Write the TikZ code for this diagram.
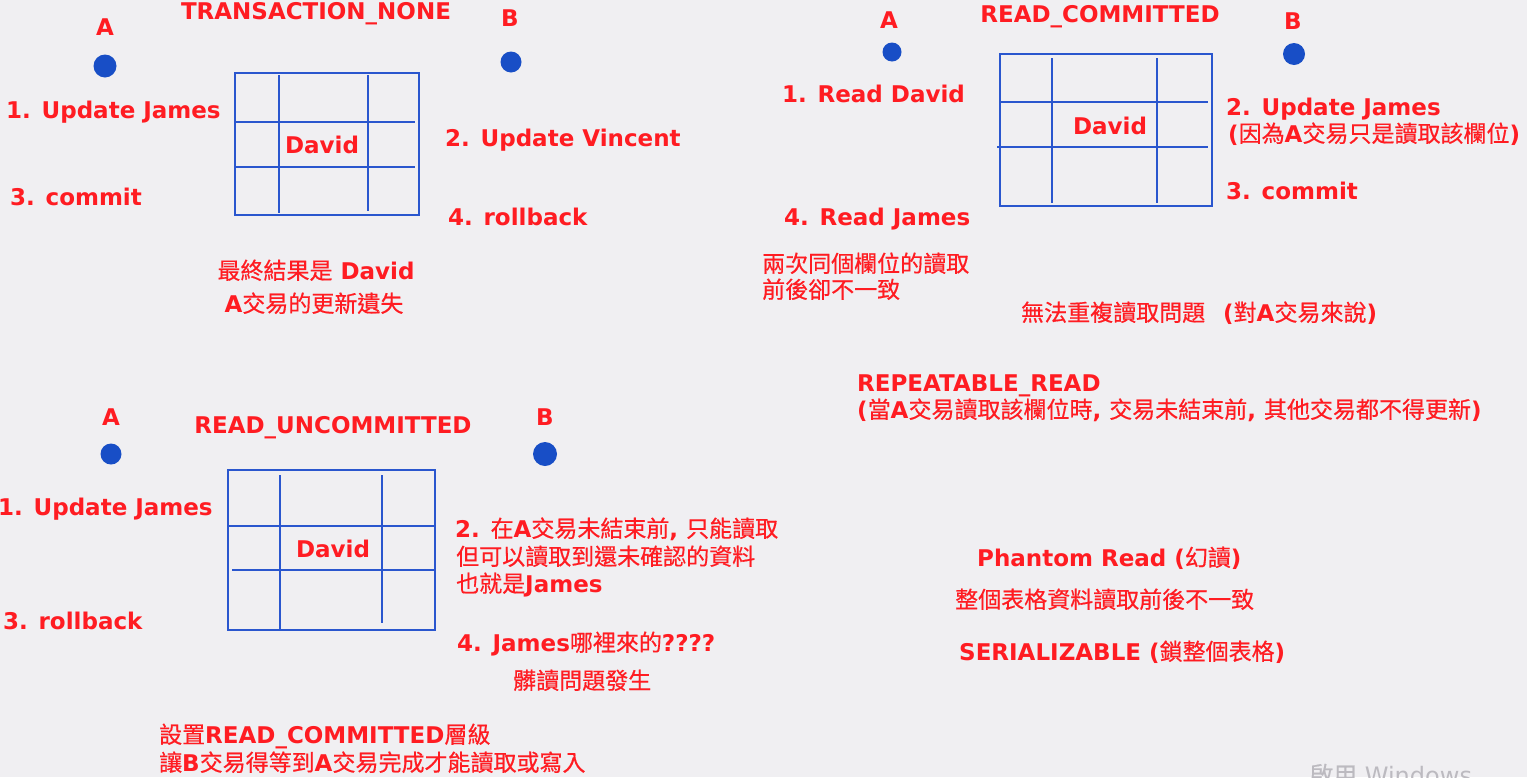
\documentclass[tikz,border=0pt]{standalone}
\usepackage{fontspec}
\setmainfont{DejaVu Sans}
\newfontfamily\cjk{Noto Sans CJK TC}[FakeBold=0.5]
\usetikzlibrary{positioning,calc}
\definecolor{bgclr}{RGB}{240,239,242}
\definecolor{txtclr}{RGB}{255,28,34}
\definecolor{gridclr}{RGB}{42,86,206}
\definecolor{dotclr}{RGB}{24,78,198}
\definecolor{markclr}{RGB}{188,186,192}
\tikzset{
  lbl/.style={text=txtclr,inner sep=0pt,anchor=base west,
              font=\bfseries\fontsize{23}{28}\selectfont},
  ttl/.style={lbl,anchor=base},
  dot/.style={circle,fill=dotclr,inner sep=0pt,minimum size=22pt},
  tbl/.style={rectangle,draw=gridclr,line width=2pt,inner sep=0pt,
              anchor=north west},
  gridln/.style={draw=gridclr,line width=2pt},
}
\newcommand{\zh}[1]{{\cjk\mdseries #1}}

\begin{document}
\begin{tikzpicture}[x=1pt,y=-1pt]
\useasboundingbox (0,0) rectangle (1527,777);
\fill[bgclr] (0,0) rectangle (1527,777);
\clip (0,0) rectangle (1527,777);

% TRANSACTION_NONE
\node[ttl] (ttlNone) at (316,19) {TRANSACTION\_NONE};
\node[lbl,anchor=base] (aNone) at (105,35) {A};
\node[dot,minimum size=23pt] (dotANone) at (105,66) {};
\node[lbl,anchor=base] (bNone) at (510,26) {B};
\node[dot,minimum size=21pt] (dotBNone) at (511,62) {};
\node[tbl,minimum width=184pt,minimum height=142pt] (tabNone) at (234,72) {};
\draw[gridln] (279,75) -- (279,213);
\draw[gridln] (368,75) -- (368,211);
\draw[gridln] (235,122) -- (415,122);
\draw[gridln] (236,167) -- (415,167);
\node[ttl] (davNone) at (322,153) {David};
\node[lbl] (s1None) at (6,118) {1. Update James};
\node[lbl] (s3None) at (10,205) {3. commit};
\node[lbl] (s2None) at (445,146) {2. Update Vincent};
\node[lbl] (s4None) at (448,225) {4. rollback};
\node[ttl] (resNone) at (316,279) {\zh{最終結果是} David};
\node[ttl] (lostNone) at (314,312) {A\zh{交易的更新遺失}};

% READ_COMMITTED
\node[lbl,anchor=base] (aRC) at (889,28) {A};
\node[dot,minimum size=19pt] (dotARC) at (892,52) {};
\node[ttl] (ttlRC) at (1100,22) {READ\_COMMITTED};
\node[lbl,anchor=base] (bRC) at (1293,29) {B};
\node[dot,minimum size=22pt] (dotBRC) at (1294,54) {};
\node[tbl,minimum width=212pt,minimum height=152pt] (tabRC) at (999,53) {};
\draw[gridln] (1052,58) -- (1052,203);
\draw[gridln] (1157,58) -- (1157,203);
\draw[gridln] (999,102) -- (1208,102);
\draw[gridln] (997,147) -- (1208,147);
\node[ttl] (davRC) at (1110,134) {David};
\node[lbl] (s1RC) at (782,102) {1. Read David};
\node[lbl] (s4RC) at (784,225) {4. Read James};
\node[lbl] (s2RC) at (1226,115) {2. Update James};
\node[lbl] (whyRC) at (1228,142) {(\zh{因為}A\zh{交易只是讀取該欄位})};
\node[lbl] (s3RC) at (1226,199) {3. commit};
\node[lbl] (note1RC) at (762,272) {\zh{兩次同個欄位的讀取}};
\node[lbl] (note2RC) at (762,298) {\zh{前後卻不一致}};
\node[lbl] (probRC) at (1021,321) {\zh{無法重複讀取問題}\hspace{18pt}(\zh{對}A\zh{交易來說})};

% REPEATABLE_READ
\node[lbl] (ttlRR) at (857,391) {REPEATABLE\_READ};
\node[lbl] (noteRR) at (857,418) {(\zh{當}A\zh{交易讀取該欄位時}, \zh{交易未結束前}, \zh{其他交易都不得更新})};

% phantom read, SERIALIZABLE
\node[lbl] (phRead) at (977,566) {Phantom Read (\zh{幻讀})};
\node[lbl] (phNote) at (955,608) {\zh{整個表格資料讀取前後不一致}};
\node[lbl] (serial) at (959,660) {SERIALIZABLE (\zh{鎖整個表格})};

% READ_UNCOMMITTED
\node[lbl,anchor=base] (aRU) at (111,425) {A};
\node[dot,minimum size=21pt] (dotARU) at (111,454) {};
\node[ttl] (ttlRU) at (333,433) {READ\_UNCOMMITTED};
\node[lbl,anchor=base] (bRU) at (545,425) {B};
\node[dot,minimum size=24pt] (dotBRU) at (545,454) {};
\node[tbl,minimum width=207pt,minimum height=160pt] (tabRU) at (227,469) {};
\draw[gridln] (280,475) -- (280,631);
\draw[gridln] (382,475) -- (382,623);
\draw[gridln] (229,526) -- (434,526);
\draw[gridln] (232,570) -- (434,570);
\node[ttl] (davRU) at (333,557) {David};
\node[lbl] (s1RU) at (-2,515) {1. Update James};
\node[lbl] (s3RU) at (3,629) {3. rollback};
\node[lbl] (s2RU) at (455,537) {2. \zh{在}A\zh{交易未結束前}, \zh{只能讀取}};
\node[lbl] (s2bRU) at (456,565) {\zh{但可以讀取到還未確認的資料}};
\node[lbl] (s2cRU) at (456,592) {\zh{也就是}James};
\node[lbl] (s4RU) at (457,651) {4. James\zh{哪裡來的}????};
\node[lbl] (dirtyRU) at (513,689) {\zh{髒讀問題發生}};
\node[lbl] (fixRU) at (159,743) {\zh{設置}READ\_COMMITTED\zh{層級}};
\node[lbl] (fix2RU) at (159,771) {\zh{讓}B\zh{交易得等到}A\zh{交易完成才能讀取或寫入}};

% watermark
\node[anchor=base west,inner sep=0pt,text=markclr,
      font=\fontsize{24}{28}\selectfont] (winMark) at (1309,784) {{\cjk\mdseries 啟用} Windows};
\end{tikzpicture}
\end{document}
